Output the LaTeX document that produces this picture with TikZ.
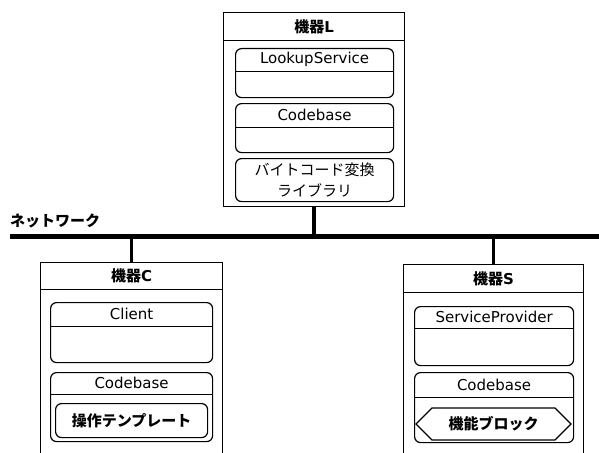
\documentclass[tikz,border=0pt]{standalone}
\usepackage{fontspec}
\setmainfont{DejaVu Sans}
\newfontfamily\jp{Noto Sans CJK JP}
\usetikzlibrary{shapes.symbols}
\newcommand{\lbl}{\fontsize{15pt}{21pt}\selectfont}
\newcommand{\jlbl}{\fontsize{15pt}{21pt}\selectfont\jp}

\begin{document}
\begin{tikzpicture}[x=1pt, y=-1pt,
    outer/.style={draw, line width=1.2pt, rectangle, anchor=north west, inner sep=0pt},
    inbox/.style={draw, line width=1.2pt, rectangle, rounded corners=6pt, anchor=north west, inner sep=0pt},
    title/.style={anchor=north, inner sep=0pt, font=\lbl},
    head/.style={font=\lbl\bfseries},
    divider/.style={line width=1.2pt},
    bus/.style={line width=5pt},
    stub/.style={line width=3.5pt}]
    \clip (0,0) rectangle (599,452);

    % Network
    \coordinate (net-w) at (10,236);
    \coordinate (net-e) at (610,236);
    \draw[bus] (net-w) -- (net-e);
    \node[anchor=base west, inner sep=0pt, font=\jlbl\bfseries] (net-label) at (10,226) {ネットワーク};

    % Device L
    \node[outer, minimum width=181pt, minimum height=28pt] (dev-l-head) at (223,12) {};
    \node[head] at (dev-l-head) {{\jlbl 機器}L};
    \node[outer, minimum width=181pt, minimum height=166pt] (dev-l) at (223,40) {};
    \node[inbox, minimum width=158pt, minimum height=49pt] (lookup) at (235,48) {};
    \node[title, minimum height=23pt] (lookup-t) at (lookup.north) {LookupService};
    \draw[divider] (lookup-t.south -| lookup.west) -- (lookup-t.south -| lookup.east);
    \node[inbox, minimum width=158pt, minimum height=49pt] (code-l) at (235,103) {};
    \node[title, minimum height=24pt] (code-l-t) at (code-l.north) {Codebase};
    \draw[divider] (code-l-t.south -| code-l.west) -- (code-l-t.south -| code-l.east);
    \node[inbox, minimum width=158pt, minimum height=43pt, align=center, font=\jlbl] (bytecode) at (235,158) {バイトコード変換\\ライブラリ};
    \draw[stub] (dev-l.south) -- (dev-l.south |- net-w);

    % Device C
    \node[outer, minimum width=182pt, minimum height=27pt] (dev-c-head) at (40,262) {};
    \node[head] at (dev-c-head) {{\jlbl 機器}C};
    \node[outer, minimum width=182pt, minimum height=200pt] (dev-c) at (40,289) {};
    \node[inbox, minimum width=162pt, minimum height=60pt] (client) at (50,302) {};
    \node[title, minimum height=24pt] (client-t) at (client.north) {Client};
    \draw[divider] (client-t.south -| client.west) -- (client-t.south -| client.east);
    \node[inbox, minimum width=162pt, minimum height=69pt] (code-c) at (50,372) {};
    \node[title, minimum height=22pt] (code-c-t) at (code-c.north) {Codebase};
    \draw[divider] (code-c-t.south -| code-c.west) -- (code-c-t.south -| code-c.east);
    \node[inbox, minimum width=152pt, minimum height=34pt, font=\jlbl\bfseries] (template) at (55,403) {操作テンプレート};
    \draw[stub] (dev-c-head.north) -- (dev-c-head.north |- net-w);

    % Device S
    \node[outer, minimum width=180pt, minimum height=28pt] (dev-s-head) at (403,264) {};
    \node[head] at (dev-s-head) {{\jlbl 機器}S};
    \node[outer, minimum width=180pt, minimum height=200pt] (dev-s) at (403,292) {};
    \node[inbox, minimum width=159pt, minimum height=59pt] (provider) at (414,306) {};
    \node[title, minimum height=22pt] (provider-t) at (provider.north) {ServiceProvider};
    \draw[divider] (provider-t.south -| provider.west) -- (provider-t.south -| provider.east);
    \node[inbox, minimum width=159pt, minimum height=70pt] (code-s) at (414,372) {};
    \node[title, minimum height=25pt] (code-s-t) at (code-s.north) {Codebase};
    \draw[divider] (code-s-t.south -| code-s.west) -- (code-s-t.south -| code-s.east);
    \node[draw, line width=1.2pt, signal, signal to=west and east, signal pointer angle=90,
          minimum width=155pt, minimum height=32pt, inner sep=0pt, font=\jlbl\bfseries] (block) at (493.5,424) {機能ブロック};
    \draw[stub] (dev-s-head.north) -- (dev-s-head.north |- net-w);
\end{tikzpicture}
\end{document}
